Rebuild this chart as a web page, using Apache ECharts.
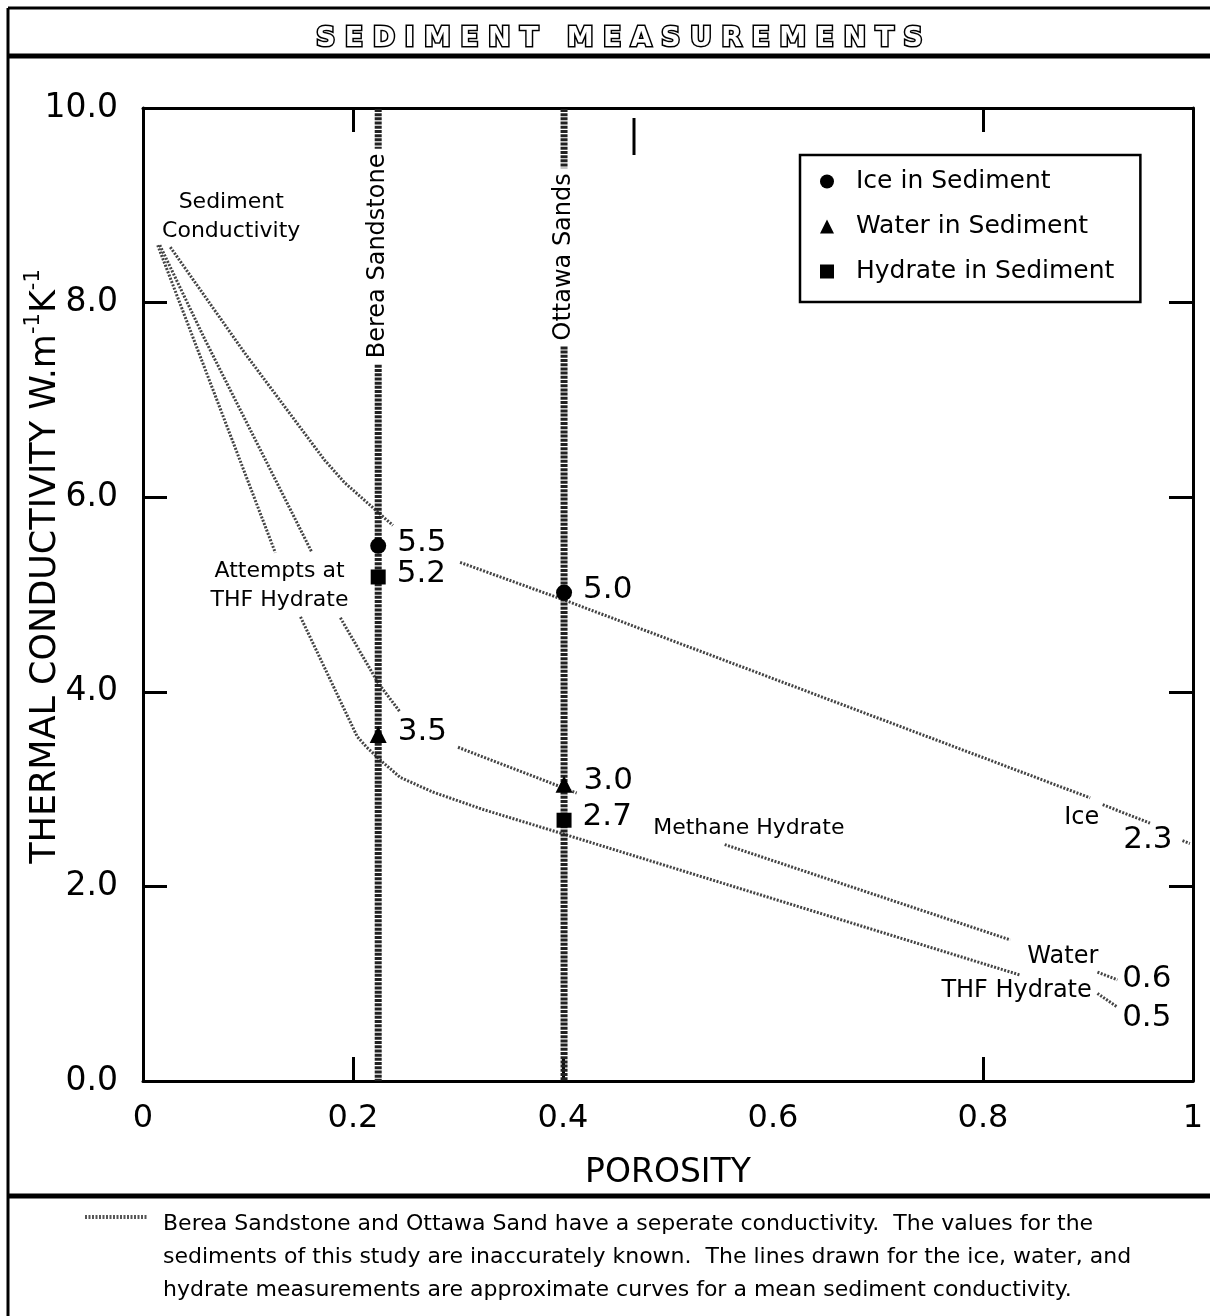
<!DOCTYPE html>
<html><head><meta charset="utf-8">
<script src="https://cdn.jsdelivr.net/npm/echarts@6/dist/echarts.min.js"></script>
<style>html,body{margin:0;padding:0;background:#fff}#c{width:1210px;height:1316px}</style>
</head><body><div id="c"></div>
<script>
// ---------- data ----------
const xTickLabels = ['0', '0.2', '0.4', '0.6', '0.8', '1'];
const yTickLabels = ['0.0', '2.0', '4.0', '6.0', '8.0', '10.0'];

const bereaX = 0.224;
const ottawaX = 0.401;
const bereaSegments = [[9.99, 9.58], [7.36, 0]];
const ottawaSegments = [[9.99, 9.38], [7.55, 0]];

const iceCurve = [
  [[0.026, 8.57], [0.097, 7.48], [0.173, 6.38], [0.192, 6.15], [0.238, 5.71]],
  [[0.302, 5.33], [0.402, 4.94], [0.902, 2.91]],
  [[0.914, 2.84], [0.959, 2.65]],
  [[0.990, 2.47], [0.997, 2.44]]
];
const waterCurve = [
  [[0.016, 8.59], [0.059, 7.62], [0.161, 5.43]],
  [[0.188, 4.76], [0.224, 4.09], [0.245, 3.79]],
  [[0.300, 3.43], [0.413, 2.96]],
  [[0.554, 2.43], [0.826, 1.45]],
  [[0.909, 1.12], [0.928, 1.04]]
];
const thfCurve = [
  [[0.014, 8.59], [0.126, 5.43]],
  [[0.150, 4.77], [0.204, 3.54], [0.213, 3.43], [0.229, 3.27], [0.245, 3.12], [0.276, 2.97], [0.324, 2.79], [0.397, 2.55], [0.835, 1.09]],
  [[0.909, 0.90], [0.928, 0.76]]
];

const iceMeasured = [[bereaX, 5.50], [ottawaX, 5.02]];
const iceLabels = ['5.5', '5.0'];
const waterMeasured = [[bereaX, 3.56], [ottawaX, 3.05]];
const waterLabels = ['3.5', '3.0'];
const hydrateMeasured = [[bereaX, 5.18], [ottawaX, 2.68]];
const hydrateLabels = ['5.2', '2.7'];

const noteTexts = ['Sediment\nConductivity', 'Attempts at\nTHF Hydrate', 'Methane Hydrate', 'Ice', 'Water', 'THF Hydrate', '2.3', '0.6', '0.5'];
const notePositions = [[0.084, 8.88], [0.130, 5.09], [0.577, 2.60], [0.894, 2.71], [0.876, 1.28], [0.832, 0.925], [0.957, 2.48], [0.956, 1.05], [0.956, 0.65]];
const noteSizes = [22, 22, 22, 24, 24, 24, 31, 31, 31];

const verticalLabels = ['Berea Sandstone', 'Ottawa Sands'];
const verticalLabelPos = [[bereaX, 8.48], [ottawaX, 8.47]];

const footnote = 'Berea Sandstone and Ottawa Sand have a seperate conductivity.  The values for the\nsediments of this study are inaccurately known.  The lines drawn for the ice, water, and\nhydrate measurements are approximate curves for a mean sediment conductivity.';

// ---------- chart ----------
const FONT = 'DejaVu Sans';
const chart = echarts.init(document.getElementById('c'), null, {renderer: 'canvas'});

const curveStyle = {color: '#444', width: 3, type: [2, 1.5]};
const series = [];
function addCurve(segs) {
  segs.forEach(seg => series.push({
    type: 'line', data: seg, symbol: 'none', silent: true, z: 2,
    lineStyle: curveStyle
  }));
}
addCurve(iceCurve); addCurve(waterCurve); addCurve(thfCurve);

function addVertical(x, segs) {
  segs.forEach(s => series.push({
    type: 'line', data: [[x, s[0]], [x, s[1]]], symbol: 'none', silent: true, z: 3,
    lineStyle: {color: '#222', width: 7, type: [3, 1.2]}
  }));
}
addVertical(bereaX, bereaSegments);
addVertical(ottawaX, ottawaSegments);

function measured(name, data, labels, symbol, size) {
  return {
    name, type: 'scatter', data, symbol, symbolSize: size, z: 5,
    itemStyle: {color: '#000', opacity: 1},
    label: {show: true, position: 'right', distance: 11, offset: [0, -3],
      formatter: p => labels[p.dataIndex], fontSize: 31, color: '#000', fontFamily: FONT}
  };
}
series.push(measured('Ice in Sediment', iceMeasured, iceLabels, 'circle', 16));
series.push(measured('Water in Sediment', waterMeasured, waterLabels, 'triangle', 17));
series.push(measured('Hydrate in Sediment', hydrateMeasured, hydrateLabels, 'rect', 15));

series.push({
  type: 'scatter', silent: true, symbolSize: 0, z: 6, itemStyle: {opacity: 1},
  data: notePositions.map((p, i) => ({
    value: p,
    label: {show: true, position: 'inside', formatter: noteTexts[i], fontSize: noteSizes[i],
      lineHeight: Math.round(noteSizes[i] * 1.3), color: '#000', fontFamily: FONT, align: 'center'}
  }))
});
series.push({
  type: 'scatter', silent: true, symbolSize: 0, z: 6, itemStyle: {opacity: 1},
  data: verticalLabelPos.map((p, i) => ({
    value: p,
    label: {show: true, position: 'inside', rotate: 90, formatter: verticalLabels[i], fontSize: 24,
      color: '#000', fontFamily: FONT}
  }))
});

const axisLineStyle = {color: '#000', width: 3};
chart.setOption({
  animation: false,
  backgroundColor: '#fff',
  title: {
    text: 'S E D I M E N T   M E A S U R E M E N T S',
    left: 311, top: 20,
    textStyle: {color: '#fff', fontFamily: FONT, fontWeight: 'bold', fontSize: 27,
      textBorderColor: '#000', textBorderWidth: 3}
  },
  legend: {
    data: ['Ice in Sediment', 'Water in Sediment', 'Hydrate in Sediment'],
    orient: 'vertical', left: 800, top: 155,
    padding: [14, 26, 18, 20], itemWidth: 14, itemHeight: 14, itemGap: 20,
    symbolKeepAspect: true,
    borderColor: '#000', borderWidth: 2.5, backgroundColor: '#fff',
    textStyle: {fontSize: 25, color: '#000', fontFamily: FONT, padding: [0, 0, 0, 17]}
  },
  grid: {left: 143, top: 108, width: 1050, height: 973, containLabel: false, outerBoundsMode: 'none'},
  xAxis: [{
    type: 'value', min: 0, max: 1, interval: 0.2, position: 'bottom',
    name: 'POROSITY', nameLocation: 'middle', nameGap: 76, nameMoveOverlap: false,
    nameTextStyle: {fontSize: 33, color: '#000', fontFamily: FONT, verticalAlign: 'top'},
    axisLine: {onZero: false, lineStyle: axisLineStyle},
    axisTick: {inside: true, length: 24, lineStyle: {width: 3, color: '#000'}, customValues: [0.2, 0.4, 0.8]},
    axisLabel: {margin: 22, fontSize: 32, color: '#000', fontFamily: FONT,
      formatter: v => xTickLabels[Math.round(v / 0.2)]},
    splitLine: {show: false}
  }, {
    type: 'value', min: 0, max: 1, interval: 0.2, position: 'top',
    axisLine: {onZero: false, lineStyle: axisLineStyle},
    axisTick: {inside: true, length: 24, lineStyle: {width: 3, color: '#000'}, customValues: [0.2, 0.8]},
    axisLabel: {show: false}, splitLine: {show: false}
  }],
  yAxis: [{
    type: 'value', min: 0, max: 10, interval: 2, position: 'left',
    name: '{t|THERMAL CONDUCTIVITY W.m}{s|-1}{t|K}{s|-1}', nameLocation: 'middle', nameGap: 80, nameRotate: 90,
    nameMoveOverlap: false,
    nameTextStyle: {padding: [0, 0, 0, 56], rich: {
      t: {fontSize: 35, color: '#000', fontFamily: FONT, lineHeight: 40, verticalAlign: 'bottom'},
      s: {fontSize: 21, color: '#000', fontFamily: FONT, lineHeight: 40, verticalAlign: 'top', padding: [0, 0, 14, 0]}
    }},
    axisLine: {onZero: false, lineStyle: axisLineStyle},
    axisTick: {inside: true, length: 24, lineStyle: {width: 3, color: '#000'}},
    axisLabel: {margin: 25, fontSize: 33, color: '#000', fontFamily: FONT,
      formatter: v => yTickLabels[Math.round(v / 2)]},
    splitLine: {show: false}
  }, {
    type: 'value', min: -0.23, max: 9.77, interval: 2, position: 'right',
    axisLine: {show: true, onZero: false, lineStyle: axisLineStyle},
    axisTick: {inside: true, length: 24, lineStyle: {width: 3, color: '#000'}},
    axisLabel: {show: false}, splitLine: {show: false}
  }],
  graphic: [
    {type: 'line', shape: {x1: 8, y1: 8, x2: 1210, y2: 8}, style: {stroke: '#000', lineWidth: 3}},
    {type: 'line', shape: {x1: 8, y1: 56, x2: 1210, y2: 56}, style: {stroke: '#000', lineWidth: 5}},
    {type: 'line', shape: {x1: 8, y1: 8, x2: 8, y2: 1316}, style: {stroke: '#000', lineWidth: 3}},
    {type: 'line', shape: {x1: 8, y1: 1196, x2: 1210, y2: 1196}, style: {stroke: '#000', lineWidth: 5}},
    {type: 'line', shape: {x1: 85, y1: 1217, x2: 148, y2: 1217}, style: {stroke: '#555', lineWidth: 4, lineDash: [2, 1.5]}},
    {type: 'line', shape: {x1: 634, y1: 118, x2: 634, y2: 155}, style: {stroke: '#000', lineWidth: 3}},
    {type: 'text', left: 163, top: 1208, style: {text: footnote, fontSize: 22, lineHeight: 33, fill: '#000', fontFamily: FONT}}
  ],
  series
});
</script>
</body></html>
